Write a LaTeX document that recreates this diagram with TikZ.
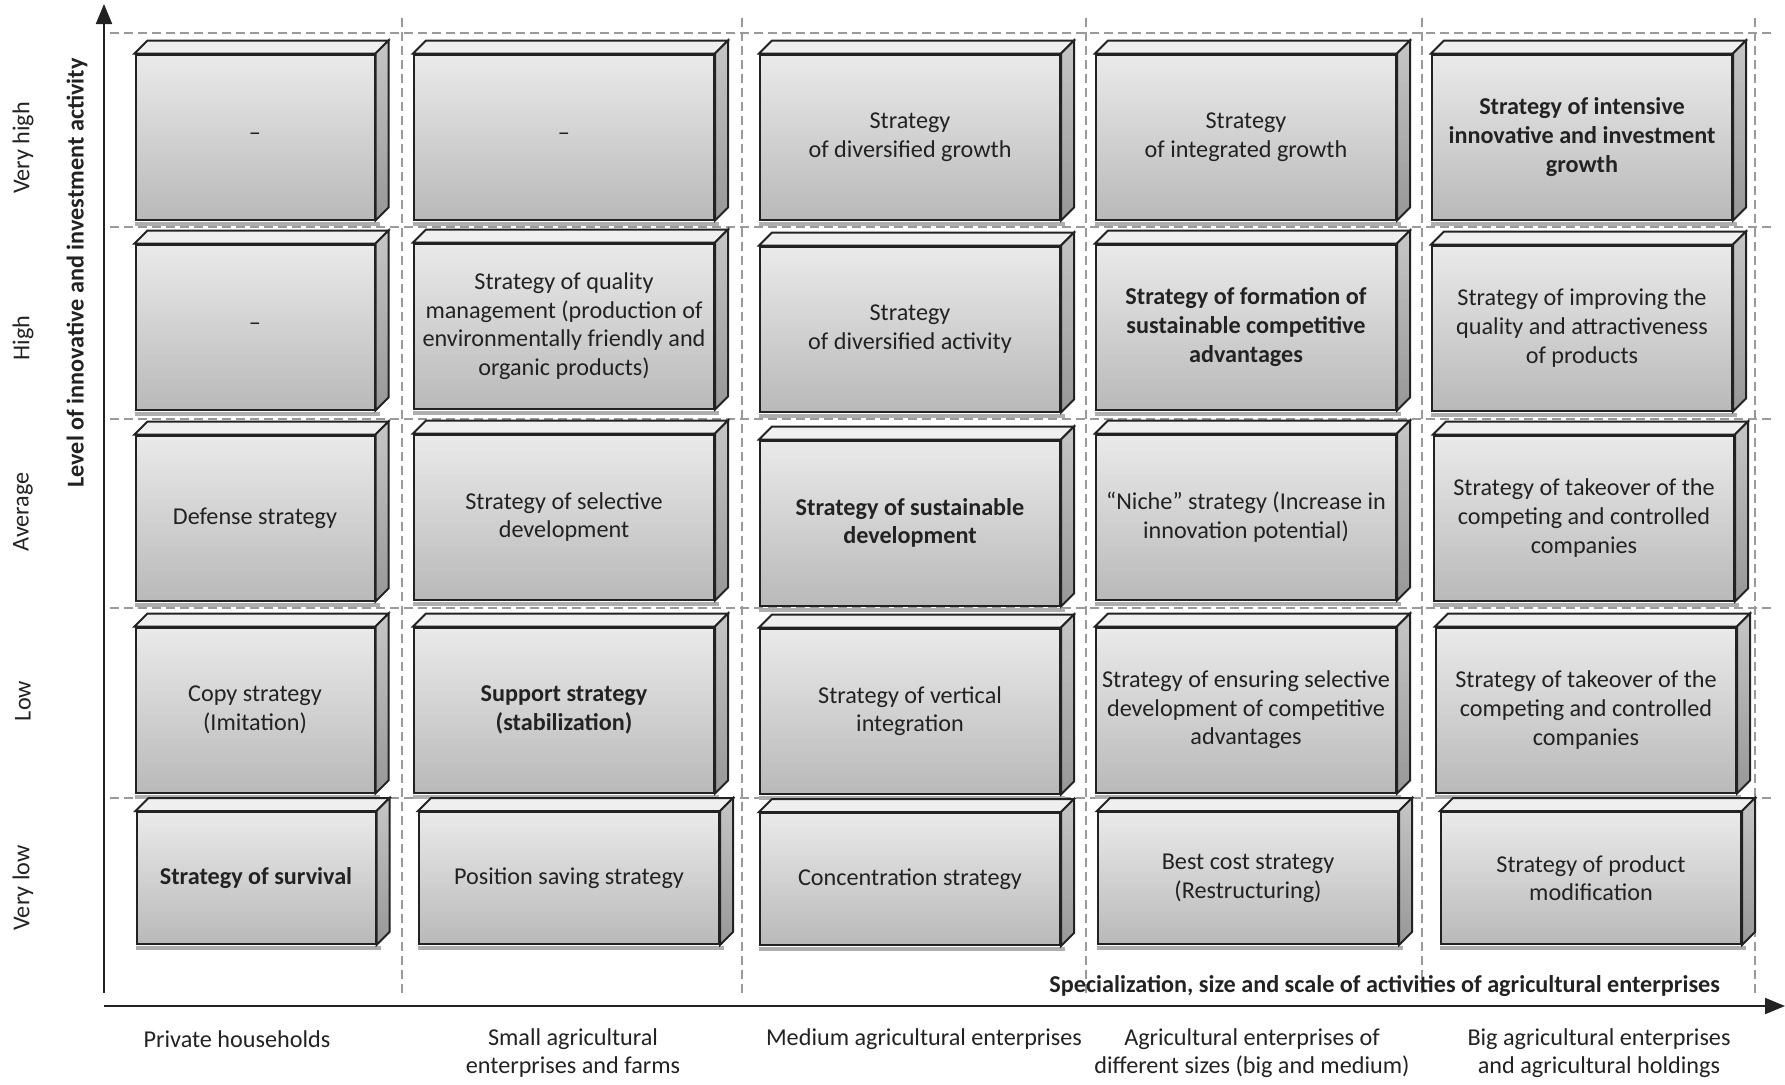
\documentclass[tikz,border=0pt]{standalone}
\usepackage{fontspec}
\setmainfont{Carlito}
\usetikzlibrary{arrows.meta}
\definecolor{facetop}{HTML}{EAEAEA}
\definecolor{facebot}{HTML}{B9B9B9}
\definecolor{sidetop}{HTML}{C6C6C6}
\definecolor{sidebot}{HTML}{979797}
\definecolor{lidgray}{HTML}{EFEFEF}
\definecolor{inkgray}{HTML}{222222}
\definecolor{gridgray}{HTML}{9A9A9A}
\begin{document}
\begin{tikzpicture}[x=0.5pt,y=-0.5pt,
  every node/.style={font=\fontsize{12.1}{14.3}\selectfont, text=inkgray},
  key/.style={font=\fontsize{12.1}{14.3}\selectfont\bfseries},
  strat/.style={draw=inkgray, line width=1pt, align=center, inner sep=0pt,
    minimum height=82.5pt, top color=facetop, bottom color=facebot},
  narrow/.style={minimum width=119.5pt},
  wide/.style={minimum width=150pt},
  flat/.style={minimum height=66pt},
  grid/.style={gridgray, line width=0.7pt, dash pattern=on 4.5pt off 2.5pt},
  axis/.style={inkgray, line width=1pt, -{Triangle[width=8pt,length=10pt]}},
  face/.style={draw=inkgray, line width=1pt}]
\useasboundingbox (0,0) rectangle (1785,1084);
% grid
\foreach \y in {33,227,419,608,798} \draw[grid] (110,\y) -- (1775,\y);
\foreach \x in {402,742,1086,1422,1755} \draw[grid] (\x,18) -- (\x,993);
% axes
\coordinate (yfoot) at (104,993);
\coordinate (ytip) at (104,4);
\coordinate (xfoot) at (104,1006);
\coordinate (xtip) at (1785,1006);
\draw[axis] (yfoot) -- (ytip);
\draw[axis] (xfoot) -- (xtip);
% very high
\node[strat,narrow] (vh1) at (255,137) {–};
\node[strat,wide] (vh2) at (564,137) {–};
\node[strat,wide] (vh3) at (910,137) {Strategy\\of diversified growth};
\node[strat,wide] (vh4) at (1246,137) {Strategy\\of integrated growth};
\node[strat,wide,key] (vh5) at (1582,137) {Strategy of intensive\\innovative and investment\\growth};
% high
\node[strat,narrow] (hi1) at (255,327) {–};
\node[strat,wide] (hi2) at (564,326) {Strategy of quality\\management (production of\\environmentally friendly and\\organic products)};
\node[strat,wide] (hi3) at (910,329) {Strategy\\of diversified activity};
\node[strat,wide,key] (hi4) at (1246,327) {Strategy of formation of\\sustainable competitive\\advantages};
\node[strat,wide] (hi5) at (1582,328) {Strategy of improving the\\quality and attractiveness\\of products};
% average
\node[strat,narrow] (av1) at (255,518) {Defense strategy};
\node[strat,wide] (av2) at (564,517) {Strategy of selective\\development};
\node[strat,wide,key] (av3) at (910,523) {Strategy of sustainable\\development};
\node[strat,wide] (av4) at (1246,517) {“Niche” strategy (Increase in\\innovation potential)};
\node[strat,wide] (av5) at (1584,518) {Strategy of takeover of the\\competing and controlled\\companies};
% low
\node[strat,narrow] (lo1) at (255,710) {Copy strategy\\(Imitation)};
\node[strat,wide,key] (lo2) at (564,710) {Support strategy\\(stabilization)};
\node[strat,wide] (lo3) at (910,711) {Strategy of vertical\\integration};
\node[strat,wide] (lo4) at (1246,710) {Strategy of ensuring selective\\development of competitive\\advantages};
\node[strat,wide] (lo5) at (1586,710) {Strategy of takeover of the\\competing and controlled\\companies};
% very low
\node[strat,narrow,flat,key] (vl1) at (256,878) {Strategy of survival};
\node[strat,wide,flat] (vl2) at (569,878) {Position saving strategy};
\node[strat,wide,flat] (vl3) at (910,879) {Concentration strategy};
\node[strat,wide,flat] (vl4) at (1248,878) {Best cost strategy\\(Restructuring)};
\node[strat,wide,flat] (vl5) at (1591,878) {Strategy of product\\modification};
% 3d faces
\foreach \n in {vh1,vh2,vh3,vh4,vh5,hi1,hi2,hi3,hi4,hi5,av1,av2,av3,av4,av5,lo1,lo2,lo3,lo4,lo5,vl1,vl2,vl3,vl4,vl5} {
  \fill[gridgray!80] ([yshift=-0.5pt]\n.south west) rectangle ([xshift=2pt,yshift=-2.5pt]\n.south east);
  \draw[face, fill=lidgray] (\n.north west) -- ++(13,-13) -- ([shift={(13,-13)}]\n.north east) -- (\n.north east) -- cycle;
  \draw[face, top color=sidetop, bottom color=sidebot] (\n.north east) -- ++(13,-13) -- ([shift={(13,-13)}]\n.south east) -- (\n.south east) -- cycle;
}
% labels
\node[rotate=90] (lvh) at (23,148) {Very high};
\node[rotate=90] (lhi) at (23,338) {High};
\node[rotate=90] (lav) at (23,512) {Average};
\node[rotate=90] (llo) at (23,701) {Low};
\node[rotate=90] (lvl) at (23,888) {Very low};
\node[rotate=90,key] (ytitle) at (77,273) {Level of innovative and investment activity};
\node[key,anchor=east] (xtitle) at (1727,986) {Specialization, size and scale of activities of agricultural enterprises};
\node (c1) at (237,1039) {Private households};
\node[align=center] (c2) at (573,1053) {Small agricultural\\enterprises and farms};
\node (c3) at (924,1039) {Medium agricultural enterprises};
\node[align=center] (c4) at (1252,1053) {Agricultural enterprises of\\different sizes (big and medium)};
\node[align=center] (c5) at (1599,1053) {Big agricultural enterprises\\and agricultural holdings};
\end{tikzpicture}
\end{document}
